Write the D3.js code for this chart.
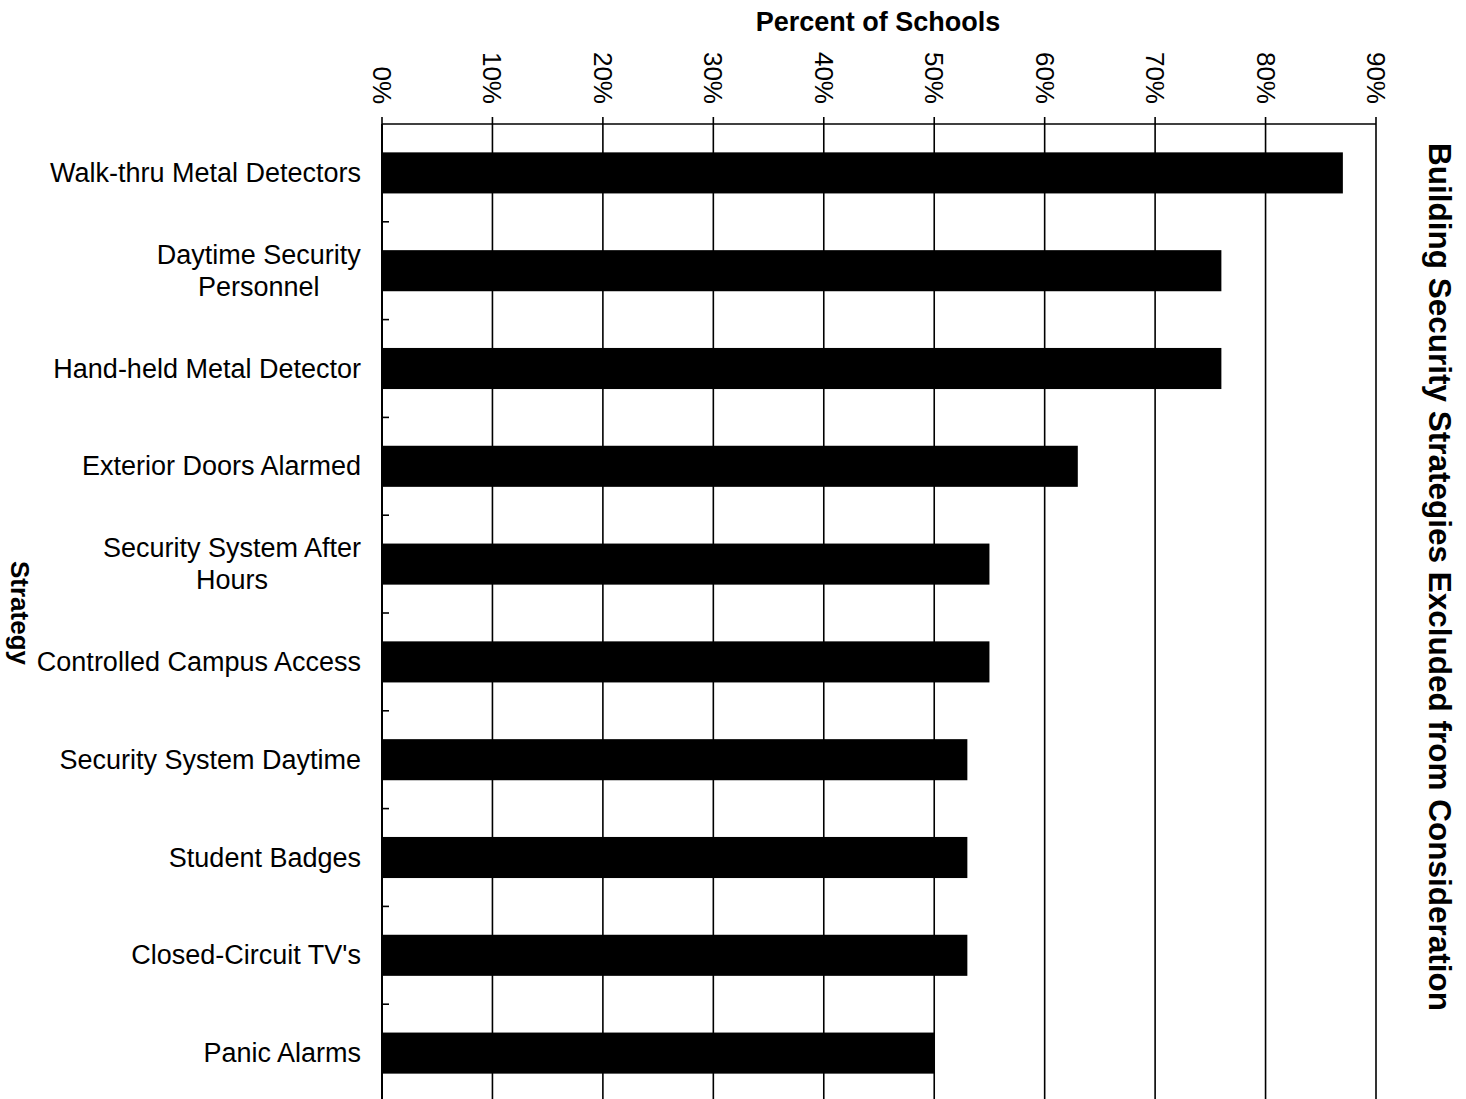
<!DOCTYPE html>
<html>
<head>
<meta charset="utf-8">
<script src="https://cdn.jsdelivr.net/npm/d3@7/dist/d3.min.js"></script>
<style>
  html, body { margin: 0; padding: 0; background: #fff; }
  svg { display: block; font-family: "Liberation Sans", Arial, sans-serif; }
</style>
</head>
<body>
<svg id="chart" width="1466" height="1099"></svg>
<script>
// Strategies, top to bottom (label lines as printed)
const strategies = [
  ["Walk-thru Metal Detectors"],
  ["Daytime Security", "Personnel"],
  ["Hand-held Metal Detector"],
  ["Exterior Doors Alarmed"],
  ["Security System After", "Hours"],
  ["Controlled Campus Access"],
  ["Security System Daytime"],
  ["Student Badges"],
  ["Closed-Circuit TV's"],
  ["Panic Alarms"]
];
// Percent of schools excluding each strategy
const percents = [87, 76, 76, 63, 55, 55, 53, 53, 53, 50];
// Axis ticks (percent)
const xTicks = [0, 10, 20, 30, 40, 50, 60, 70, 80, 90];

const svg = d3.select("#chart");
const margin = { left: 382, right: 1376, top: 124, bottom: 1102 };

const x = d3.scaleLinear().domain([0, 90]).range([margin.left, margin.right]);
const y = d3.scaleBand()
  .domain(d3.range(strategies.length))
  .range([margin.top, margin.bottom])
  .paddingInner(0.58)
  .paddingOuter(0.29);

// Category boundaries for the small inward ticks on the left axis
const step = (margin.bottom - margin.top) / strategies.length;

// Vertical gridlines
svg.append("g")
  .selectAll("line")
  .data(xTicks)
  .join("line")
  .attr("x1", d => x(d)).attr("x2", d => x(d))
  .attr("y1", margin.top - 7).attr("y2", margin.bottom)
  .attr("stroke", "#000").attr("stroke-width", 1.6);

// Top frame line
svg.append("line")
  .attr("x1", margin.left).attr("x2", margin.right)
  .attr("y1", margin.top).attr("y2", margin.top)
  .attr("stroke", "#000").attr("stroke-width", 1.6);

// Bars
svg.append("g")
  .selectAll("rect")
  .data(percents)
  .join("rect")
  .attr("x", x(0))
  .attr("y", (d, i) => y(i))
  .attr("width", d => x(d) - x(0))
  .attr("height", y.bandwidth())
  .attr("fill", "#000");

// Left axis line and inward ticks at category boundaries
svg.append("line")
  .attr("x1", margin.left).attr("x2", margin.left)
  .attr("y1", margin.top).attr("y2", margin.bottom)
  .attr("stroke", "#000").attr("stroke-width", 2);
svg.append("g")
  .selectAll("line")
  .data(d3.range(1, strategies.length))
  .join("line")
  .attr("x1", margin.left).attr("x2", margin.left + 7)
  .attr("y1", i => margin.top + i * step).attr("y2", i => margin.top + i * step)
  .attr("stroke", "#000").attr("stroke-width", 1.6);

// Top tick labels, rotated to read downward
svg.append("g")
  .selectAll("text")
  .data(xTicks)
  .join("text")
  .attr("transform", d => `translate(${x(d) - 9},104) rotate(90)`)
  .attr("text-anchor", "end")
  .attr("font-size", 26)
  .attr("fill", "#000")
  .text(d => d + "%");

// Category labels: block right-aligned to the axis, wrapped lines centred
const labels = svg.append("g")
  .selectAll("text")
  .data(strategies)
  .join("text")
  .attr("text-anchor", "middle")
  .attr("font-size", 27)
  .attr("fill", "#000");
labels.each(function(lines, i) {
  const t = d3.select(this);
  const cy = y(i) + y.bandwidth() / 2;
  const lh = 32;
  const y0 = cy - (lines.length - 1) * lh / 2 + 9;
  lines.forEach((ln, j) => {
    t.append("tspan").attr("x", 0).attr("y", y0 + j * lh).text(ln);
  });
  const w = this.getBBox().width;
  t.selectAll("tspan").attr("x", 361 - w / 2);
});

// Axis title
svg.append("text")
  .attr("x", 878).attr("y", 31)
  .attr("text-anchor", "middle")
  .attr("font-size", 27).attr("font-weight", "bold")
  .text("Percent of Schools");

// Category axis title
svg.append("text")
  .attr("transform", "translate(11,613) rotate(90)")
  .attr("text-anchor", "middle")
  .attr("font-size", 26).attr("font-weight", "bold")
  .text("Strategy");

// Chart title
svg.append("text")
  .attr("transform", "translate(1429,577) rotate(90)")
  .attr("text-anchor", "middle")
  .attr("font-size", 31.5).attr("font-weight", "bold")
  .text("Building Security Strategies Excluded from Consideration");
</script>
</body>
</html>
